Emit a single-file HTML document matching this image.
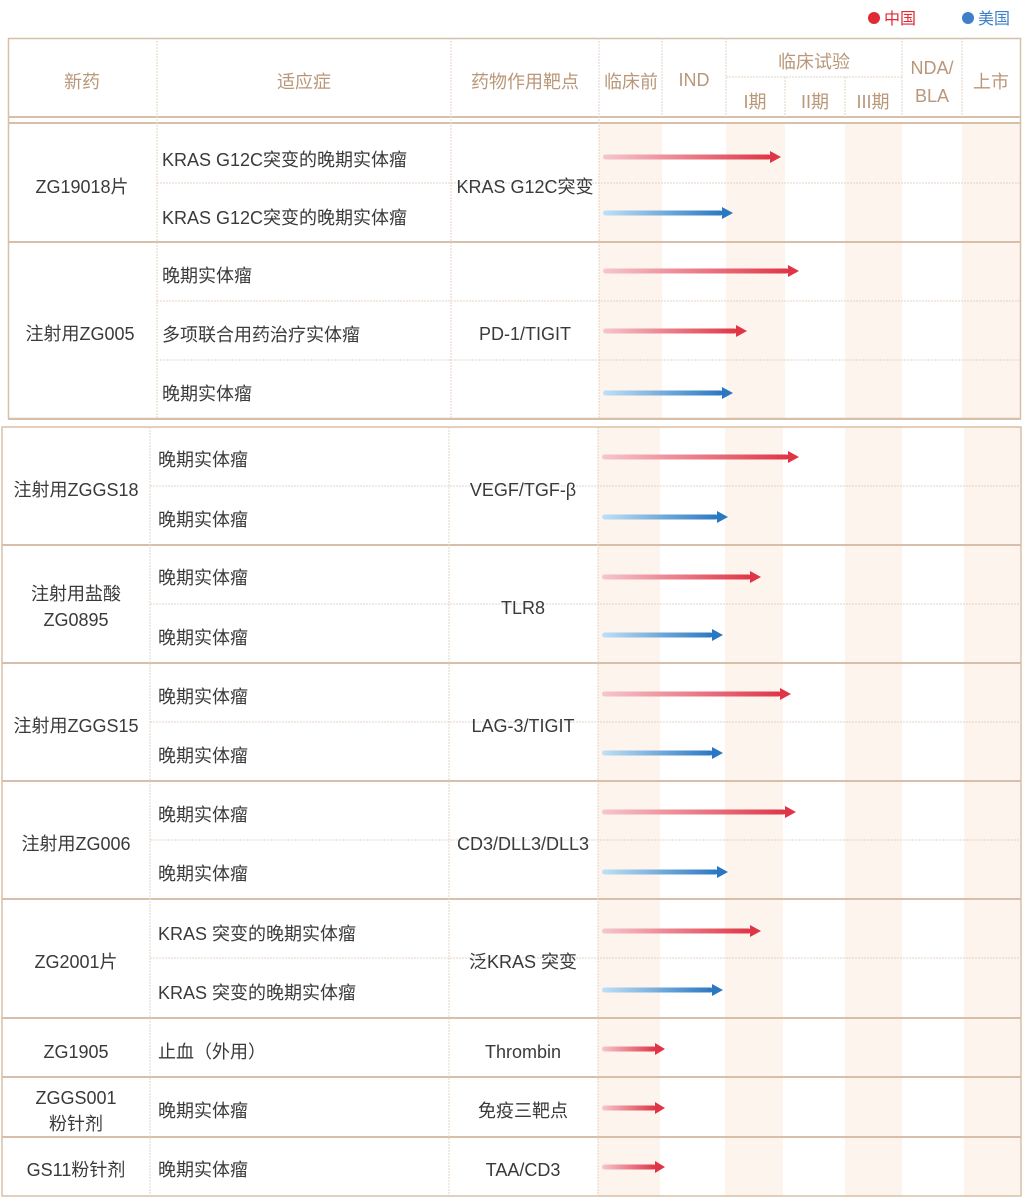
<!DOCTYPE html>
<html><head><meta charset="utf-8"><style>
html,body{margin:0;padding:0;background:#fff;}
svg{display:block;font-family:"Liberation Sans","Noto Sans CJK SC",sans-serif;}
.t{font-size:18px;fill:#3a3a3a;}
.h{font-size:18px;fill:#b99779;}
</style></head><body>
<svg width="1026" height="1202" viewBox="0 0 1026 1202" xmlns="http://www.w3.org/2000/svg">
<defs>
<linearGradient id="r" x1="0" x2="1" y1="0" y2="0"><stop offset="0" stop-color="#f6c6cd"/><stop offset="1" stop-color="#df3546"/></linearGradient>
<linearGradient id="b" x1="0" x2="1" y1="0" y2="0"><stop offset="0" stop-color="#bfe0f6"/><stop offset="1" stop-color="#2a78c2"/></linearGradient>
</defs>
<circle cx="874" cy="18" r="6" fill="#e02a35"/><text x="884" y="24" font-size="16" fill="#e02a35">中国</text>
<circle cx="968" cy="18" r="6" fill="#3f7fc8"/><text x="978" y="24" font-size="16" fill="#3f7fc8">美国</text>

<g fill="#fcf4ed">
<rect x="599" y="124" width="63" height="295"/><rect x="726" y="124" width="59" height="295"/>
<rect x="845" y="124" width="57" height="295"/><rect x="962" y="124" width="59" height="295"/>
<rect x="598" y="427" width="62" height="769"/><rect x="725" y="427" width="58" height="769"/>
<rect x="845" y="427" width="57" height="769"/><rect x="964" y="427" width="57" height="769"/>
</g>

<g stroke="#d8bfa9" fill="none">
<rect x="8.5" y="38.5" width="1012" height="380" stroke-width="1.5"/>
<line x1="8" y1="117" x2="1021" y2="117" stroke-width="2"/>
<line x1="8" y1="123" x2="1021" y2="123" stroke-width="2"/>
<line x1="8" y1="242" x2="1021" y2="242" stroke-width="2"/>
<line x1="8" y1="419" x2="1021" y2="419" stroke-width="2"/>
</g>
<g stroke="#e3d3c4" stroke-width="1" stroke-dasharray="2,1">
<line x1="157" y1="38" x2="157" y2="419"/><line x1="451" y1="38" x2="451" y2="419"/>
<line x1="599" y1="38" x2="599" y2="419"/><line x1="662" y1="38" x2="662" y2="117"/>
<line x1="726" y1="38" x2="726" y2="117"/><line x1="902" y1="38" x2="902" y2="117"/>
<line x1="962" y1="38" x2="962" y2="117"/><line x1="785" y1="77" x2="785" y2="117"/>
<line x1="845" y1="77" x2="845" y2="117"/><line x1="726" y1="77" x2="902" y2="77"/>
<line x1="157" y1="183" x2="1021" y2="183"/><line x1="157" y1="301" x2="1021" y2="301"/>
<line x1="157" y1="360" x2="1021" y2="360"/>
</g>
<g class="h" text-anchor="middle">
<text x="82" y="88">新药</text><text x="304" y="88">适应症</text><text x="525" y="88">药物作用靶点</text>
<text x="631" y="88">临床前</text><text x="694" y="86">IND</text><text x="814" y="68">临床试验</text>
<text x="755" y="108">I期</text><text x="815" y="108">II期</text><text x="873" y="108">III期</text>
<text x="932" y="74">NDA/</text><text x="932" y="102">BLA</text><text x="991" y="88">上市</text>
</g>
<g class="t">
<text x="82" y="193" text-anchor="middle">ZG19018片</text>
<text x="162" y="166">KRAS G12C突变的晚期实体瘤</text>
<text x="162" y="224">KRAS G12C突变的晚期实体瘤</text>
<text x="525" y="193" text-anchor="middle">KRAS G12C突变</text>
<text x="80" y="340" text-anchor="middle">注射用ZG005</text>
<text x="162" y="282">晚期实体瘤</text><text x="162" y="341">多项联合用药治疗实体瘤</text><text x="162" y="400">晚期实体瘤</text>
<text x="525" y="340" text-anchor="middle">PD-1/TIGIT</text>
</g>

<g stroke="#d8bfa9" fill="none" stroke-width="2">
<rect x="2" y="427" width="1019" height="769" stroke-width="1.5"/>
<line x1="2" y1="545" x2="1021" y2="545"/><line x1="2" y1="663" x2="1021" y2="663"/>
<line x1="2" y1="781" x2="1021" y2="781"/><line x1="2" y1="899" x2="1021" y2="899"/>
<line x1="2" y1="1018" x2="1021" y2="1018"/><line x1="2" y1="1077" x2="1021" y2="1077"/>
<line x1="2" y1="1137" x2="1021" y2="1137"/>
</g>
<g stroke="#e3d3c4" stroke-width="1" stroke-dasharray="2,1">
<line x1="150" y1="427" x2="150" y2="1196"/><line x1="449" y1="427" x2="449" y2="1196"/>
<line x1="598" y1="427" x2="598" y2="1196"/>
<line x1="150" y1="486" x2="1021" y2="486"/><line x1="150" y1="604" x2="1021" y2="604"/>
<line x1="150" y1="722" x2="1021" y2="722"/><line x1="150" y1="840" x2="1021" y2="840"/>
<line x1="150" y1="958" x2="1021" y2="958"/>
</g>
<g class="t">
<text x="76" y="496" text-anchor="middle">注射用ZGGS18</text>
<text x="76" y="600" text-anchor="middle">注射用盐酸</text><text x="76" y="626" text-anchor="middle">ZG0895</text>
<text x="76" y="732" text-anchor="middle">注射用ZGGS15</text>
<text x="76" y="850" text-anchor="middle">注射用ZG006</text>
<text x="76" y="968" text-anchor="middle">ZG2001片</text>
<text x="76" y="1058" text-anchor="middle">ZG1905</text>
<text x="76" y="1104" text-anchor="middle">ZGGS001</text><text x="76" y="1130" text-anchor="middle">粉针剂</text>
<text x="76" y="1176" text-anchor="middle">GS11粉针剂</text>
<text x="158" y="466">晚期实体瘤</text><text x="158" y="526">晚期实体瘤</text>
<text x="158" y="584">晚期实体瘤</text><text x="158" y="644">晚期实体瘤</text>
<text x="158" y="703">晚期实体瘤</text><text x="158" y="762">晚期实体瘤</text>
<text x="158" y="821">晚期实体瘤</text><text x="158" y="880">晚期实体瘤</text>
<text x="158" y="940">KRAS 突变的晚期实体瘤</text><text x="158" y="999">KRAS 突变的晚期实体瘤</text>
<text x="158" y="1058">止血（外用）</text><text x="158" y="1117">晚期实体瘤</text><text x="158" y="1176">晚期实体瘤</text>
<g text-anchor="middle">
<text x="523" y="496">VEGF/TGF-β</text><text x="523" y="614">TLR8</text>
<text x="523" y="732">LAG-3/TIGIT</text><text x="523" y="850">CD3/DLL3/DLL3</text>
<text x="523" y="968">泛KRAS 突变</text><text x="523" y="1058">Thrombin</text>
<text x="523" y="1117">免疫三靶点</text><text x="523" y="1176">TAA/CD3</text>
</g>
</g>

<g>
<rect x="603" y="154.5" width="168" height="5" rx="2.5" fill="url(#r)"/><polygon points="770,151 781,157 770,163" fill="#df3546"/>
<rect x="603" y="210.5" width="120" height="5" rx="2.5" fill="url(#b)"/><polygon points="722,207 733,213 722,219" fill="#2a78c2"/>
<rect x="603" y="268.5" width="186" height="5" rx="2.5" fill="url(#r)"/><polygon points="788,265 799,271 788,277" fill="#df3546"/>
<rect x="603" y="328.5" width="134" height="5" rx="2.5" fill="url(#r)"/><polygon points="736,325 747,331 736,337" fill="#df3546"/>
<rect x="603" y="390.5" width="120" height="5" rx="2.5" fill="url(#b)"/><polygon points="722,387 733,393 722,399" fill="#2a78c2"/>

<rect x="602" y="454.5" width="187" height="5" rx="2.5" fill="url(#r)"/><polygon points="788,451 799,457 788,463" fill="#df3546"/>
<rect x="602" y="514.5" width="116" height="5" rx="2.5" fill="url(#b)"/><polygon points="717,511 728,517 717,523" fill="#2a78c2"/>
<rect x="602" y="574.5" width="149" height="5" rx="2.5" fill="url(#r)"/><polygon points="750,571 761,577 750,583" fill="#df3546"/>
<rect x="602" y="632.5" width="111" height="5" rx="2.5" fill="url(#b)"/><polygon points="712,629 723,635 712,641" fill="#2a78c2"/>
<rect x="602" y="691.5" width="179" height="5" rx="2.5" fill="url(#r)"/><polygon points="780,688 791,694 780,700" fill="#df3546"/>
<rect x="602" y="750.5" width="111" height="5" rx="2.5" fill="url(#b)"/><polygon points="712,747 723,753 712,759" fill="#2a78c2"/>
<rect x="602" y="809.5" width="184" height="5" rx="2.5" fill="url(#r)"/><polygon points="785,806 796,812 785,818" fill="#df3546"/>
<rect x="602" y="869.5" width="116" height="5" rx="2.5" fill="url(#b)"/><polygon points="717,866 728,872 717,878" fill="#2a78c2"/>
<rect x="602" y="928.5" width="149" height="5" rx="2.5" fill="url(#r)"/><polygon points="750,925 761,931 750,937" fill="#df3546"/>
<rect x="602" y="987.5" width="111" height="5" rx="2.5" fill="url(#b)"/><polygon points="712,984 723,990 712,996" fill="#2a78c2"/>
<rect x="602" y="1046.5" width="54" height="5" rx="2.5" fill="url(#r)"/><polygon points="655,1043 665,1049 655,1055" fill="#df3546"/>
<rect x="602" y="1105.5" width="54" height="5" rx="2.5" fill="url(#r)"/><polygon points="655,1102 665,1108 655,1114" fill="#df3546"/>
<rect x="602" y="1164.5" width="54" height="5" rx="2.5" fill="url(#r)"/><polygon points="655,1161 665,1167 655,1173" fill="#df3546"/>
</g>
</svg>
</body></html>
